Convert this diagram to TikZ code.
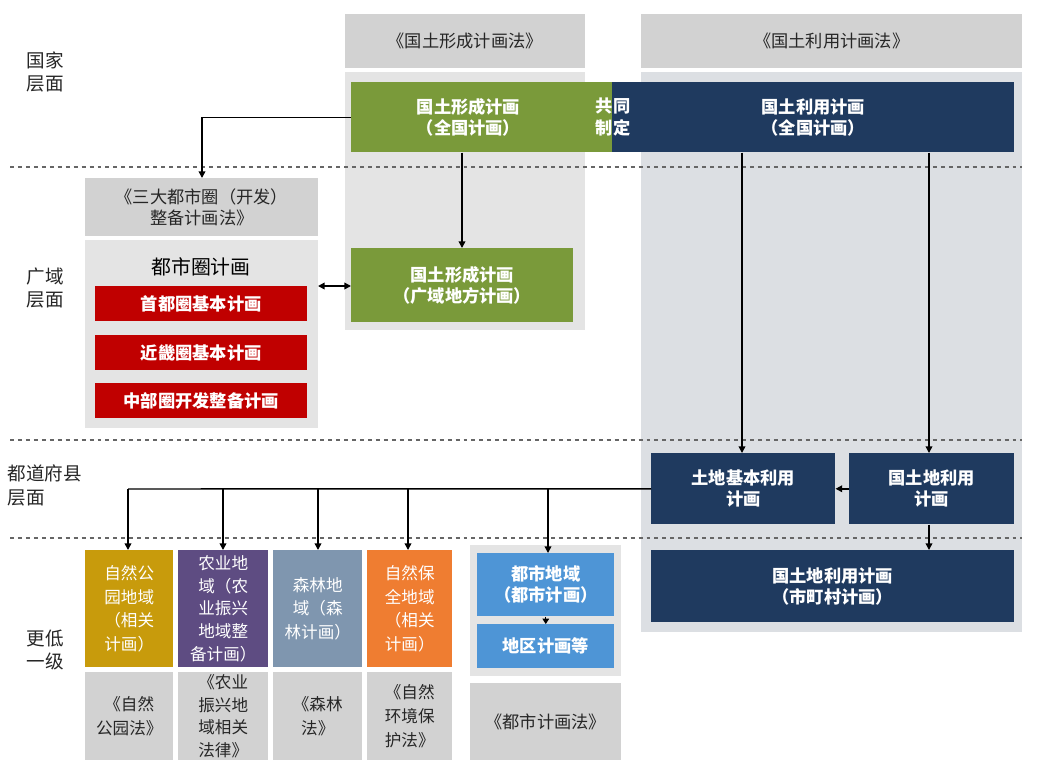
\documentclass[tikz,border=0pt]{standalone}
\usepackage{fontspec}
\setmainfont{Noto Sans CJK SC}
\usetikzlibrary{arrows.meta}
\definecolor{cgreen}{HTML}{7A9A3A}
\definecolor{cnavy}{HTML}{1F3A5F}
\definecolor{cred}{HTML}{C00000}
\definecolor{cyel}{HTML}{C89B0C}
\definecolor{cpur}{HTML}{5E4C82}
\definecolor{cslate}{HTML}{7F96AF}
\definecolor{corg}{HTML}{EF7D31}
\definecolor{cblue}{HTML}{4E95D6}
\definecolor{chead}{HTML}{D2D2D2}
\definecolor{cpanel}{HTML}{E4E4E4}
\definecolor{crpanel}{HTML}{DCDFE3}
\tikzset{
 box/.style={inner sep=0pt,align=center},
 wt/.style={text=white,font=\fontsize{13}{16}\selectfont\bfseries},
 gt/.style={text=black!85,font=\fontsize{13}{16}\selectfont},
 lbl/.style={font=\fontsize{14}{18}\selectfont,align=left,text=black!85},
 arr/.style={-{Triangle[length=5pt,width=5pt]},line width=1.1pt},
 dl/.style={dashed,gray!80!black,line width=1pt},
}
\begin{document}
\begin{tikzpicture}[x=0.0265cm,y=-0.0265cm]
\useasboundingbox[fill=white] (0,0) rectangle (1037,772);
% panels
\fill[cpanel] (345,72) rectangle (585,330);
\fill[crpanel] (641,72) rectangle (1022,632);
\fill[cpanel] (85,240) rectangle (318,428);
\fill[cpanel] (470,545) rectangle (621,676);
% headers
\node[box,gt,fill=chead,minimum width=240*0.0265cm,minimum height=54*0.0265cm,anchor=north west] (h1) at (345,14) {《国土形成计画法》};
\node[box,gt,fill=chead,minimum width=381*0.0265cm,minimum height=54*0.0265cm,anchor=north west] (h2) at (641,14) {《国土利用计画法》};
\node[box,gt,fill=chead,minimum width=233*0.0265cm,minimum height=58*0.0265cm,anchor=north west] (h3) at (85,178) {《三大都市圈（开发）\\整备计画法》};
% dashed lines
\draw[dl] (10,167) -- (1022,167);
\draw[dl] (10,440) -- (1022,440);
\draw[dl] (10,538) -- (1022,538);
% level labels
\node[lbl] (l1) at (45,72) {国家\\层面};
\node[lbl] (l2) at (45,288) {广域\\层面};
\node[lbl] (l3) at (45,485) {都道府县\\层面};
\node[lbl,anchor=west] (l4) at (22,650) {更低\\一级};
% top boxes
\node[box,wt,fill=cgreen,minimum width=261*0.0265cm,minimum height=70*0.0265cm,anchor=north west] (g1) at (351,82) {\hspace*{-20pt}国土形成计画\\\hspace*{-20pt}（全国计画）};
\node[box,wt,fill=cnavy,minimum width=402*0.0265cm,minimum height=70*0.0265cm,anchor=north west] (n1) at (612,82) {国土利用计画\\（全国计画）};
\node[wt,align=center,inner sep=0pt] (co) at (613,117) {共同\\制定};
% wide-area
\node[box,wt,fill=cgreen,minimum width=222*0.0265cm,minimum height=74*0.0265cm,anchor=north west] (g2) at (351,248) {国土形成计画\\（广域地方计画）};
\node[font=\fontsize{15}{18}\selectfont,text=black] (mt) at (201,267) {都市圈计画};
\node[box,wt,fill=cred,minimum width=212*0.0265cm,minimum height=35*0.0265cm,anchor=north west] (r1) at (95,286) {首都圈基本计画};
\node[box,wt,fill=cred,minimum width=212*0.0265cm,minimum height=35*0.0265cm,anchor=north west] (r2) at (95,335) {近畿圈基本计画};
\node[box,wt,fill=cred,minimum width=212*0.0265cm,minimum height=35*0.0265cm,anchor=north west] (r3) at (95,383) {中部圈开发整备计画};
% prefecture
\node[box,wt,fill=cnavy,minimum width=184*0.0265cm,minimum height=71*0.0265cm,anchor=north west] (p1) at (651,453) {土地基本利用\\计画};
\node[box,wt,fill=cnavy,minimum width=165*0.0265cm,minimum height=71*0.0265cm,anchor=north west] (p2) at (849,453) {国土地利用\\计画};
\node[box,wt,fill=cnavy,minimum width=363*0.0265cm,minimum height=72*0.0265cm,anchor=north west] (p3) at (651,550) {国土地利用计画\\（市町村计画）};
% lower
\tikzset{sm/.style={box,wt,font=\fontsize{12.5}{18}\selectfont,minimum height=117*0.0265cm,anchor=north west},
 lw/.style={box,gt,fill=chead,font=\fontsize{12.5}{18}\selectfont,minimum height=88*0.0265cm,anchor=north west}}
\node[sm,fill=cyel,minimum width=88*0.0265cm,font=\fontsize{12.5}{18}\selectfont] (b1) at (85,550) {自然公\\园地域\\（相关\\计画）};
\node[sm,fill=cpur,minimum width=90*0.0265cm,font=\fontsize{12.5}{17}\selectfont] (b2) at (178,550) {农业地\\域（农\\业振兴\\地域整\\备计画）};
\node[sm,fill=cslate,minimum width=89*0.0265cm] (b3) at (273,550) {森林地\\域（森\\林计画）};
\node[sm,fill=corg,minimum width=85*0.0265cm] (b4) at (367,550) {自然保\\全地域\\（相关\\计画）};
\node[lw,minimum width=88*0.0265cm] (c1) at (85,672) {《自然\\公园法》};
\node[lw,minimum width=90*0.0265cm,font=\fontsize{12.5}{17}\selectfont] (c2) at (178,672) {《农业\\振兴地\\域相关\\法律》};
\node[lw,minimum width=89*0.0265cm] (c3) at (273,672) {《森林\\法》};
\node[lw,minimum width=85*0.0265cm] (c4) at (367,672) {《自然\\环境保\\护法》};
\node[box,wt,fill=cblue,minimum width=137*0.0265cm,minimum height=63*0.0265cm,anchor=north west] (u1) at (477,553) {都市地域\\（都市计画）};
\node[box,wt,fill=cblue,minimum width=137*0.0265cm,minimum height=44*0.0265cm,anchor=north west] (u2) at (477,624) {地区计画等};
\node[lw,minimum width=151*0.0265cm,minimum height=77*0.0265cm,font=\fontsize{13}{16}\selectfont] (c5) at (470,683) {《都市计画法》};
% connectors
\draw[arr] (g1.west) -| (h3.north -| 202,0);
\draw[arr] (g1.south -| 462,0) -- (g2.north -| 462,0);
\draw[{Triangle[length=5pt,width=5pt]}-{Triangle[length=5pt,width=5pt]},line width=1.1pt] (318,286) -- (g2.west |- 0,286);
\draw[arr] (n1.south -| 742,0) -- (p1.north -| 742,0);
\draw[arr] (n1.south -| 929,0) -- (p2.north -| 929,0);
\draw[arr] (p2.west) -- (p1.east);
\draw[arr] (p2.south -| 929,0) -- (p3.north -| 929,0);
\coordinate (j) at (128,489);
\draw[line width=1.1pt] (p1.west) -- (j);
\draw[arr] (j) -- (b1.north -| 128,0);
\draw[arr] (223,489) -- (b2.north -| 223,0);
\draw[arr] (318,489) -- (b3.north -| 318,0);
\draw[arr] (408,489) -- (b4.north -| 408,0);
\draw[arr] (548,489) -- (u1.north -| 548,0);
\draw[-{Triangle[length=4pt,width=5pt]},line width=0.6pt] (u1.south) -- (u2.north);
\end{tikzpicture}
\end{document}
